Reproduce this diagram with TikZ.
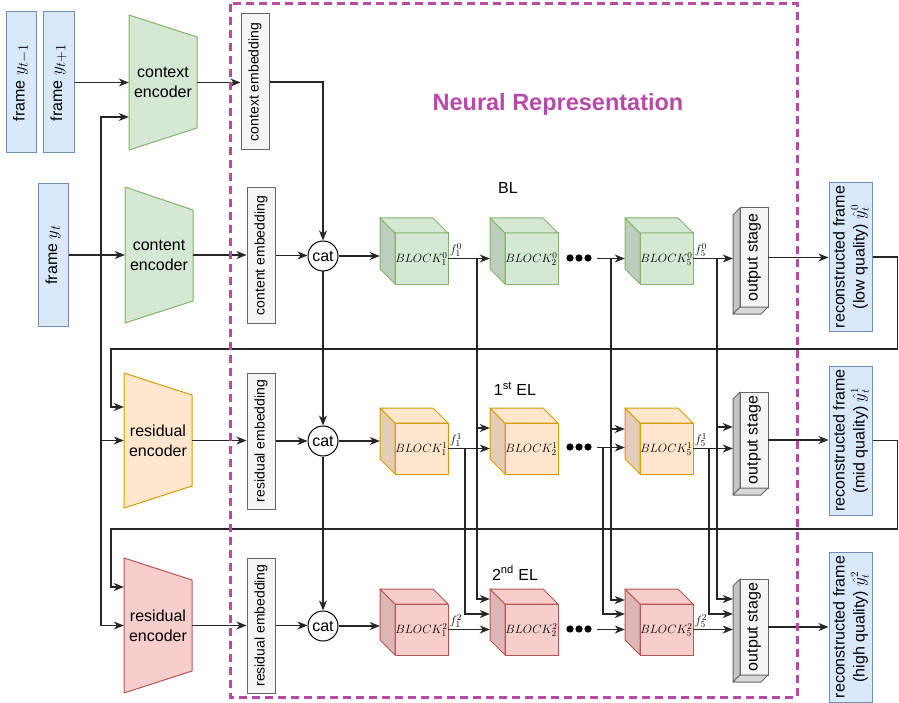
\documentclass[tikz,border=0pt]{standalone}
\usepackage[no-math]{fontspec}
\setmainfont{Liberation Sans}
\usepackage{graphicx}
\usetikzlibrary{arrows.meta}

\definecolor{bluefill}{HTML}{DAE8FC}   \definecolor{bluedraw}{HTML}{6C8EBF}
\definecolor{greenfill}{HTML}{D5E8D4}  \definecolor{greendraw}{HTML}{82B366}
\definecolor{orangefill}{HTML}{FFE6CC} \definecolor{orangedraw}{HTML}{D79B00}
\definecolor{redfill}{HTML}{F8CECC}    \definecolor{reddraw}{HTML}{B85450}
\definecolor{greyfill}{HTML}{F5F5F5}   \definecolor{greydraw}{HTML}{666666}
\definecolor{nrpurple}{HTML}{B64AA6}

% trapezoid encoder: left x, right x, left top, left bottom, right top, right bottom, colour prefix
\newcommand\drawencoder[7]{%
  \filldraw[draw=#7draw, fill=#7fill, line width=1pt, line join=round]
    (#1,#3) -- (#2,#5) -- (#2,#6) -- (#1,#4) -- cycle;}

% cube block: back top-left corner x, y, colour prefix
\newcommand\drawcube[3]{%
  \filldraw[draw=#3draw, fill=#3fill, line width=1pt] (#1+15,#2+15) rectangle (#1+68,#2+66);
  \filldraw[draw=#3draw, fill=#3fill!89!black, line width=1pt, line join=round]
    (#1,#2) -- (#1+15,#2+15) -- (#1+15,#2+66) -- (#1,#2+51) -- cycle;
  \filldraw[draw=#3draw, fill=#3fill, line width=1pt, line join=round]
    (#1,#2) -- (#1+53,#2) -- (#1+68,#2+15) -- (#1+15,#2+15) -- cycle;}

% output stage slab: top and bottom y of the front face
\newcommand\drawoutstage[2]{%
  \filldraw[draw=greydraw, fill=greyfill, line width=1pt] (740,#1) rectangle (768,#2);
  \filldraw[draw=greydraw, fill=greyfill!80!black, line width=1pt, line join=round]
    (733,#1+7) -- (740,#1) -- (740,#2) -- (733,#2+7) -- cycle;
  \filldraw[draw=greydraw, fill=greyfill!88!black, line width=1pt, line join=round]
    (733,#2+7) -- (740,#2) -- (768,#2) -- (761,#2+7) -- cycle;}

\newcommand\framemath[1]{{\fontsize{19}{22}\selectfont$#1$}}

\tikzset{
  conn/.style={line width=1.2pt, draw=black!85},
  arr/.style={conn, -{Stealth[length=10pt,width=8pt,inset=3pt]}},
  framebox/.style={draw=bluedraw, fill=bluefill, line width=1pt, inner sep=0pt,
    font=\fontsize{16}{20}\selectfont},
  embbox/.style={draw=greydraw, fill=greyfill, line width=1pt, inner sep=0pt,
    minimum width=28pt, font=\fontsize{14}{16}\selectfont},
  catnode/.style={circle, draw, fill=white, line width=1pt, minimum size=30pt,
    inner sep=0pt, font=\fontsize{16}{18}\selectfont},
  enclabel/.style={align=center, inner sep=0pt, minimum width=68pt,
    font=\fontsize{16}{20}\selectfont},
  cubearea/.style={inner sep=0pt, minimum width=68pt, minimum height=66pt},
  blocklabel/.style={inner sep=0pt, font=\fontsize{12.5}{14}\selectfont},
  flabel/.style={anchor=south west, inner sep=1pt, font=\fontsize{12.5}{14}\selectfont},
  osarea/.style={inner sep=0pt, minimum width=35pt, minimum height=103pt},
  oslabel/.style={inner sep=0pt, minimum width=28pt, font=\fontsize{16}{20}\selectfont},
  layerlabel/.style={font=\fontsize{16}{19}\selectfont},
}

\begin{document}
\begin{tikzpicture}[x=1pt,y=-1pt]
\useasboundingbox (0,0) rectangle (899,703);

% ---------- input frames ----------
\node[framebox, minimum width=30pt, minimum height=141pt] (fym1) at (21,82.5)
  {\rotatebox{90}{frame \framemath{y_{t-1}}}};
\node[framebox, minimum width=31pt, minimum height=141pt] (fyp1) at (58.5,82.5)
  {\rotatebox{90}{frame \framemath{y_{t+1}}}};
\node[framebox, minimum width=30pt, minimum height=142pt] (fyt) at (53,255)
  {\rotatebox{90}{frame \framemath{y_t}}};

% ---------- encoders ----------
\drawencoder{129}{197}{15}{150}{37}{128}{green}
\node[enclabel, minimum height=135pt] (ctxenc) at (163,82.5) {context\\encoder};
\drawencoder{125}{193}{187}{323}{210}{301}{green}
\node[enclabel, minimum height=136pt] (cntenc) at (159,255) {content\\encoder};
\drawencoder{124}{192}{373}{508}{395}{486}{orange}
\node[enclabel, minimum height=135pt] (resenc1) at (158,440.5) {residual\\encoder};
\drawencoder{124}{192}{558}{693}{580}{671}{red}
\node[enclabel, minimum height=135pt] (resenc2) at (158,625.5) {residual\\encoder};

% ---------- embeddings ----------
\node[embbox, minimum height=136pt] (ctxemb) at (255,82) {\rotatebox{90}{context embedding}};
\node[embbox, minimum height=135pt] (cntemb) at (261,255.5) {\rotatebox{90}{content embedding}};
\node[embbox, minimum height=136pt] (resemb1) at (261,441) {\rotatebox{90}{residual embedding}};
\node[embbox, minimum height=135pt] (resemb2) at (261,625.5) {\rotatebox{90}{residual embedding}};

% ---------- concatenation ----------
\node[catnode] (cat1) at (323,256) {cat};
\node[catnode] (cat2) at (323,441) {cat};
\node[catnode] (cat3) at (323,626) {cat};

% ---------- blocks (area node for connectors, label on the front face) ----------
\drawcube{380}{218}{green}
\node[cubearea] (b01) at (414,251) {};
\node[blocklabel] (l01) at (421.5,259) {$BLOCK_1^0$};
\drawcube{490}{218}{green}
\node[cubearea] (b02) at (524,251) {};
\node[blocklabel] (l02) at (531.5,259) {$BLOCK_2^0$};
\drawcube{625}{218}{green}
\node[cubearea] (b05) at (659,251) {};
\node[blocklabel] (l05) at (666.5,259) {$BLOCK_5^0$};

\drawcube{380}{408}{orange}
\node[cubearea] (b11) at (414,441) {};
\node[blocklabel] (l11) at (421.5,449) {$BLOCK_1^1$};
\drawcube{490}{408}{orange}
\node[cubearea] (b12) at (524,441) {};
\node[blocklabel] (l12) at (531.5,449) {$BLOCK_2^1$};
\drawcube{625}{408}{orange}
\node[cubearea] (b15) at (659,441) {};
\node[blocklabel] (l15) at (666.5,449) {$BLOCK_5^1$};

\drawcube{380}{589}{red}
\node[cubearea] (b21) at (414,622) {};
\node[blocklabel] (l21) at (421.5,630) {$BLOCK_1^2$};
\drawcube{490}{589}{red}
\node[cubearea] (b22) at (524,622) {};
\node[blocklabel] (l22) at (531.5,630) {$BLOCK_2^2$};
\drawcube{625}{589}{red}
\node[cubearea] (b25) at (659,622) {};
\node[blocklabel] (l25) at (666.5,630) {$BLOCK_5^2$};

% ellipsis between block 2 and block 5
\foreach \y in {258,447,629}
  \foreach \x in {570,579,588}
    \fill (\x,\y) circle (3.6pt);

% ---------- output stages ----------
\drawoutstage{208}{307}
\node[osarea, minimum height=106pt] (os0) at (750.5,261) {};
\node[oslabel, minimum height=99pt] (osl0) at (754,257.5) {\rotatebox{90}{output stage}};
\drawoutstage{392}{488}
\node[osarea] (os1) at (750.5,443.5) {};
\node[oslabel, minimum height=96pt] (osl1) at (754,440) {\rotatebox{90}{output stage}};
\drawoutstage{579}{675}
\node[osarea] (os2) at (750.5,630.5) {};
\node[oslabel, minimum height=96pt] (osl2) at (754,627) {\rotatebox{90}{output stage}};

% ---------- reconstructed frames ----------
\node[framebox, minimum width=43pt, minimum height=148pt] (rf0) at (850.5,257)
  {\rotatebox{90}{\begin{tabular}{@{}c@{}}reconstructed frame\\(low quality) $\hat{y}_t^0$\end{tabular}}};
\node[framebox, minimum width=43pt, minimum height=149pt] (rf1) at (850.5,440.5)
  {\rotatebox{90}{\begin{tabular}{@{}c@{}}reconstructed frame\\(mid quality) $\hat{y}_t^1$\end{tabular}}};
\node[framebox, minimum width=43pt, minimum height=150pt] (rf2) at (850.5,627)
  {\rotatebox{90}{\begin{tabular}{@{}c@{}}reconstructed frame\\(high quality) $\hat{y}_t^2$\end{tabular}}};

% ---------- labels ----------
\node[font=\bfseries\fontsize{23.5}{28}\selectfont, text=nrpurple] (title) at (558,104) {Neural Representation};
\node[layerlabel] (bl) at (508,188) {BL};
\node[layerlabel] (el1) at (515,389) {1\textsuperscript{st} EL};
\node[layerlabel] (el2) at (515,573) {2\textsuperscript{nd} EL};

% ---------- connectors: inputs ----------
\draw[arr] (fyp1.east) -- (fyp1.east -| ctxenc.west);
\draw[arr] (fyt.east) -- (fyt.east -| cntenc.west);
\coordinate (split) at (101,255);
\draw[arr] (split) |- ([yshift=-34.5pt]ctxenc.west);
\draw[arr] (split) |- (resenc1.west);
\draw[arr] (split) |- (resenc2.west);

% feedback of reconstructed frames
\draw[arr] (rf0.east) -- ++(25,0) |- (111,349) |- ([yshift=33.5pt]resenc1.west);
\draw[arr] (rf1.east) -- ++(25,0) |- (111,529) |- ([yshift=38.5pt]resenc2.west);

% encoders to embeddings
\draw[arr] (ctxenc.east) -- (ctxenc.east -| ctxemb.west);
\draw[arr] (cntenc.east) -- (cntenc.east -| cntemb.west);
\draw[arr] (resenc1.east) -- (resenc1.east -| resemb1.west);
\draw[arr] (resenc2.east) -- (resenc2.east -| resemb2.west);

% embeddings to concatenation
\draw[arr] (ctxemb.east) -| (cat1.north);
\draw[arr] (cntemb.east) -- (cntemb.east -| cat1.west);
\draw[arr] (resemb1.east) -- (resemb1.east -| cat2.west);
\draw[arr] (resemb2.east) -- (resemb2.east -| cat3.west);
\draw[arr] (cat1.south) -- (cat2.north);
\draw[arr] (cat2.south) -- (cat3.north);

% block outputs leave the front face 7.5pt below the cube centre
\coordinate (o01) at ([yshift=-7.5pt]b01.east);
\coordinate (o05) at ([yshift=-7.5pt]b05.east);
\coordinate (o11) at ([yshift=-7.5pt]b11.east);
\coordinate (o15) at ([yshift=-7.5pt]b15.east);
\coordinate (o21) at ([yshift=-7.5pt]b21.east);
\coordinate (o25) at ([yshift=-7.5pt]b25.east);

% ---------- base layer ----------
\draw[arr] (cat1.east) -- (cat1.east -| b01.west);
\draw[arr] (o01) node[flabel] {$f_1^0$} -- (o01 -| b02.west);
\coordinate (d0) at (597,258.5);
\draw[arr] (d0) -- (d0 -| b05.west);
\draw[arr] (o05) node[flabel] {$f_5^0$} -- (o05 -| os0.west);
\coordinate (t01) at (477,258.5);
\draw[arr] (t01) |- ([yshift=13pt]b12.west);
\draw[arr] (t01) |- ([yshift=23pt]b22.west);
\coordinate (t05) at (611,258.5);
\draw[arr] (t05) |- ([yshift=12pt]b15.west);
\draw[arr] (t05) |- ([yshift=22pt]b25.west);
\coordinate (t0o) at (717,258.5);
\draw[arr] (t0o) |- ([yshift=16.5pt]os1.west);
\draw[arr] (t0o) |- ([yshift=31.5pt]os2.west);

% ---------- first enhancement layer ----------
\draw[arr] (cat2.east) -- (cat2.east -| b11.west);
\draw[arr] (o11) node[flabel] {$f_1^1$} -- (o11 -| b12.west);
\coordinate (d1) at (597,447.5);
\draw[arr] (d1) -- (d1 -| b15.west);
\draw[arr] (o15) node[flabel] {$f_5^1$} -- (o15 -| os1.west);
\coordinate (t11) at (465,448.5);
\draw[arr] (t11) |- ([yshift=8pt]b22.west);
\coordinate (t15) at (603,447.5);
\draw[arr] (t15) |- ([yshift=8pt]b25.west);
\coordinate (t1o) at (709,448.5);
\draw[arr] (t1o) |- ([yshift=16.5pt]os2.west);

% ---------- second enhancement layer ----------
\draw[arr] (cat3.east) -- (cat3.east -| b21.west);
\draw[arr] (o21) node[flabel] {$f_1^2$} -- (o21 -| b22.west);
\coordinate (d2) at (597,629.5);
\draw[arr] (d2) -- (d2 -| b25.west);
\draw[arr] (o25) node[flabel] {$f_5^2$} -- (o25 -| os2.west);

% ---------- output stages to reconstructed frames ----------
\draw[arr] (osl0.east) -- (osl0.east -| rf0.west);
\draw[arr] (osl1.east) -- (osl1.east -| rf1.west);
\draw[arr] (osl2.east) -- (osl2.east -| rf2.west);

% ---------- neural representation boundary ----------
\draw[nrpurple, line width=3pt, dash pattern=on 8pt off 5pt] (230,4) rectangle (797,697);
\end{tikzpicture}
\end{document}
